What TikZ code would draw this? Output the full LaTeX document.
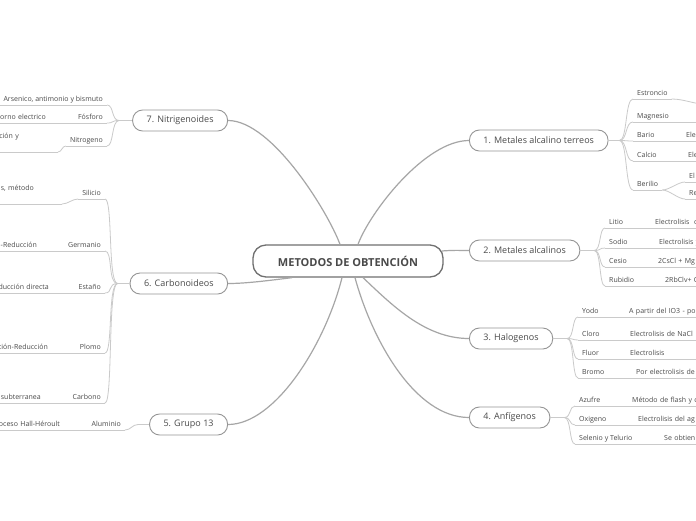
\documentclass[tikz,border=0pt]{standalone}
\usepackage{fontspec}
\setmainfont{Open Sans}
\usepackage{tikz}
\usetikzlibrary{positioning,calc}
\usepackage{xcolor}
\definecolor{inkGray}{HTML}{4A4A4A}
\definecolor{rootGray}{HTML}{707070}
\definecolor{boxGray}{HTML}{959595}
\definecolor{curveGray}{HTML}{A6A6A6}
\definecolor{twigGray}{HTML}{CACACA}

\begin{document}
\begin{tikzpicture}[x=1pt, y=-1pt,
    rootBox/.style={rectangle, rounded corners=13pt, draw=rootGray, line width=1.3pt, fill=white, text=inkGray, font=\fontsize{11}{13}\selectfont\bfseries, minimum width=190pt, minimum height=32pt},
    topicBox/.style={rectangle, rounded corners=10pt, draw=boxGray, line width=0.9pt, fill=white, text=inkGray, font=\fontsize{9}{11}\selectfont, minimum height=21pt, inner xsep=14pt},
    mainCurve/.style={draw=curveGray, line width=1.2pt},
    twig/.style={draw=twigGray, line width=0.8pt},
    uline/.style={append after command={(\tikzlastnode.south west) edge[twig] (\tikzlastnode.south east)}},
    leafR/.style={anchor=south west, inner xsep=4pt, inner ysep=1.5pt, text depth=2pt, text=inkGray, font=\fontsize{7}{9}\selectfont, uline},
    leafL/.style={leafR, anchor=south east},
    childR/.style={leafR, text width=110pt, align=left},
    childL/.style={leafL, text width=110pt, align=right}
]
    \path[use as bounding box, fill=white] (0,0) rectangle (696,520);
    \clip (0,0) rectangle (696,520);

    \node[rootBox] (root) at (348,261) {METODOS DE OBTENCIÓN};

    % Ramas derechas
    \node[topicBox, anchor=west] (alcTerr) at (469,140.5) {1. Metales alcalino terreos};
    \node[topicBox, anchor=west] (alcal) at (469,250.5) {2. Metales alcalinos};
    \node[topicBox, anchor=west] (halog) at (469,338.5) {3. Halogenos};
    \node[topicBox, anchor=west] (anfig) at (469,417.5) {4. Anfígenos};

    % Ramas izquierdas
    \node[topicBox, anchor=east] (grupo) at (228,424.5) {5. Grupo 13};
    \node[topicBox, anchor=east] (carbon) at (228,283.5) {6. Carbonoideos};
    \node[topicBox, anchor=east] (nitrig) at (228,120.5) {7. Nitrigenoides};

    \draw[mainCurve] ([xshift=10pt]root.north) .. controls (370,212) and (425,140.5) .. (alcTerr.west);
    \draw[mainCurve] ([xshift=-2pt, yshift=10pt]root.east) .. controls (455,250) and (460,250.5) .. (alcal.west);
    \draw[mainCurve] ([xshift=15pt]root.south) .. controls (392,305) and (425,338.5) .. (halog.west);
    \draw[mainCurve] ([xshift=7pt]root.south) .. controls (372,340) and (415,417.5) .. (anfig.west);
    \draw[mainCurve] ([xshift=-6pt]root.south) .. controls (325,345) and (275,424.5) .. (grupo.east);
    \draw[mainCurve] ([xshift=-56pt]root.south) .. controls (265,281) and (245,283.5) .. (carbon.east);
    \draw[mainCurve] ([xshift=-8pt]root.north) .. controls (328,212) and (272,120.5) .. (nitrig.east);

    \coordinate[right=11pt of alcTerr] (b1);
    \coordinate[right=14pt of alcal] (b2);
    \coordinate[right=14pt of halog] (b3);
    \coordinate[right=14pt of anfig] (b4);
    \coordinate[left=11pt of grupo] (b5);
    \coordinate[left=12pt of carbon] (b6);
    \coordinate[left=13pt of nitrig] (b7);

    % 1. Metales alcalino terreos
    \node[leafR] (estr) at (633,99) {Estroncio};
    \node[leafR] (magn) at (633,122) {Magnesio};
    \node[leafR] (bario) at (633,141) {Bario};
    \node[leafR] (calcio) at (633,161) {Calcio};
    \node[leafR] (berilio) at (633,190) {Berilio};
    \node[childR] (barioC) at (682,141) {Ele};
    \node[childR] (calcioC) at (684,161) {Ele};
    \node[childR] (berEl) at (685,182) {El};
    \node[childR] (berRe) at (685,199) {Re};
    \coordinate (estrC) at (704,104);
    \coordinate (magnC) at (704,122);

    % 2. Metales alcalinos
    \node[leafR] (litio) at (605,228) {Litio};
    \node[leafR] (sodio) at (605,248) {Sodio};
    \node[leafR] (cesio) at (605,267) {Cesio};
    \node[leafR] (rubid) at (605,286) {Rubidio};
    \node[childR] (litioC) at (651,228) {Electrolisis\ \ d};
    \node[childR] (sodioC) at (655,248) {Electrolisis y};
    \node[childR] (cesioC) at (654,267) {2CsCl + Mg};
    \node[childR] (rubidC) at (661,286) {2RbClv+ C};

    % 3. Halogenos
    \node[leafR] (yodo) at (578,317) {Yodo};
    \node[leafR] (cloro) at (578,340) {Cloro};
    \node[leafR] (fluor) at (578,359) {Fluor};
    \node[leafR] (bromo) at (578,378) {Bromo};
    \node[childR] (yodoC) at (625,317) {A partir del IO3 - por};
    \node[childR] (cloroC) at (626,340) {Electrolisis de NaCl};
    \node[childR] (fluorC) at (626,359) {Electrolisis};
    \node[childR] (bromoC) at (632,378) {Por electrolisis de};

    % 4. Anfigenos
    \node[leafR] (azufre) at (575,406) {Azufre};
    \node[leafR] (oxig) at (575,425) {Oxigeno};
    \node[leafR] (selen) at (575,444) {Selenio y Telurio};
    \node[childR] (azufreC) at (628,406) {Método de flash y c};
    \node[childR] (oxigC) at (634,425) {Electrolisis del ag};
    \node[childR] (selenC) at (660,444) {Se obtien};

    % 7. Nitrigenoides
    \node[leafL] (arsen) at (107,105) {Arsenico, antimonio y bismuto};
    \node[leafL] (fosf) at (107,123) {Fósforo};
    \node[leafL] (nitrog) at (107,146) {Nitrogeno};
    \node[childL] (fosfC) at (50,123) {horno electrico};
    \node[childL, text depth=12pt] (nitrogC) at (58,152) {ción y\hspace*{35pt}};

    % 6. Carbonoideos
    \node[leafL] (silic) at (105,199) {Silicio};
    \node[leafL] (germ) at (105,251) {Germanio};
    \node[leafL] (estan) at (105,293) {Estaño};
    \node[leafL] (plomo) at (105,353) {Plomo};
    \node[leafL] (carbo) at (105,403) {Carbono};
    \node[childL, text depth=12pt] (silicC) at (62,204) {s, método\hspace*{24pt}};
    \node[childL] (germC) at (41,251) {-Reducción};
    \node[childL] (estanC) at (53,293) {ducción directa};
    \node[childL] (plomoC) at (52,353) {ción-Reducción};
    \node[childL] (carboC) at (45,403) {subterranea};

    % 5. Grupo 13
    \node[leafL] (alum) at (125,430) {Aluminio};
    \node[childL] (alumC) at (64,430) {oceso Hall-Héroult};

    % conexiones de las ramas
    \draw[twig] (alcTerr.east) -- (b1);
    \foreach \n in {estr,magn,bario,calcio,berilio}
        \draw[twig] (b1) .. controls +(8,0) and +(-8,0) .. (\n.south west);
    \draw[twig] (alcal.east) -- (b2);
    \foreach \n in {litio,sodio,cesio,rubid}
        \draw[twig] (b2) .. controls +(7,0) and +(-6,0) .. (\n.south west);
    \draw[twig] (halog.east) -- (b3);
    \foreach \n in {yodo,cloro,fluor,bromo}
        \draw[twig] (b3) .. controls +(7,0) and +(-6,0) .. (\n.south west);
    \draw[twig] (anfig.east) -- (b4);
    \foreach \n in {azufre,oxig,selen}
        \draw[twig] (b4) .. controls +(7,0) and +(-6,0) .. (\n.south west);
    \draw[twig] (grupo.west) -- (b5) .. controls +(-6,0) and +(6,0) .. (alum.south east);
    \draw[twig] (carbon.west) -- (b6);
    \foreach \n in {silic,germ,estan,plomo,carbo}
        \draw[twig] (b6) .. controls +(-10,0) and +(8,0) .. (\n.south east);
    \draw[twig] (nitrig.west) -- (b7);
    \foreach \n in {arsen,fosf,nitrog}
        \draw[twig] (b7) .. controls +(-8,0) and +(7,0) .. (\n.south east);

    % hojas y sus hijos
    \foreach \a/\b in {bario/barioC,calcio/calcioC,litio/litioC,sodio/sodioC,cesio/cesioC,rubid/rubidC,yodo/yodoC,cloro/cloroC,fluor/fluorC,bromo/bromoC,azufre/azufreC,oxig/oxigC,selen/selenC}
        \draw[twig] (\a.south east) -- (\b.south west);
    \draw[twig] (estr.south east) .. controls +(12,0) and +(-10,0) .. (estrC);
    \draw[twig] (magn.south east) -- (magnC);
    \foreach \c in {berEl,berRe}
        \draw[twig] (berilio.south east) .. controls +(7,0) and +(-7,0) .. (\c.south west);
    \foreach \a/\b in {fosf/fosfC,germ/germC,estan/estanC,plomo/plomoC,carbo/carboC,alum/alumC}
        \draw[twig] (\b.south east) -- (\a.south west);
    \draw[twig] (nitrogC.south east) .. controls +(4,0) and +(-4,0) .. (nitrog.south west);
    \draw[twig] (silicC.south east) .. controls +(6,0) and +(-6,0) .. (silic.south west);
\end{tikzpicture}
\end{document}
